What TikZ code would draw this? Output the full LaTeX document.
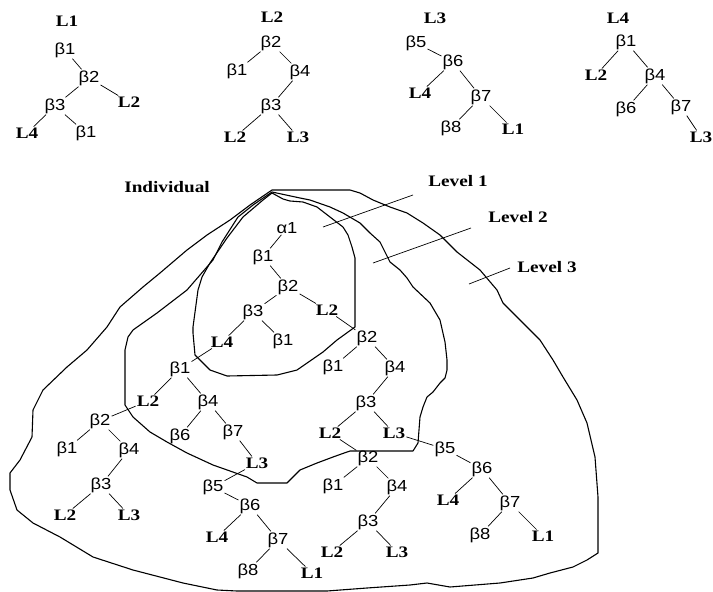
\documentclass[tikz,border=0pt]{standalone}
\usepackage{fontspec}
\setmainfont{Liberation Serif}
\newfontfamily\lbf{Liberation Serif}[FakeStretch=1.2]
\newfontfamily\bfs{Liberation Sans}[FakeStretch=1.15]
\tikzset{
  bet/.style={font=\bfs\fontsize{16}{16}\selectfont, inner sep=1pt},
  lab/.style={font=\lbf\bfseries\fontsize{16}{16}\selectfont, inner sep=1pt},
  edg/.style={line width=0.7pt},
  region/.style={line width=1.1pt, line join=round},
}
\begin{document}
\begin{tikzpicture}[x=1pt,y=-1pt]
\useasboundingbox (0,0) rectangle (713,592);
% ---------- top trees ----------
\node[lab] (tA) at (67,21) {L1};
\node[bet] (a1) at (65,50) {β1};
\node[bet] (a2) at (89,78) {β2};
\node[lab] (a3) at (129,102) {L2};
\node[bet] (a4) at (55,106) {β3};
\node[lab] (a5) at (27,133) {L4};
\node[bet] (a6) at (86,133) {β1};
\draw[edg] (a1)--(a2) (a2)--(a4) (a2)--(a3) (a4)--(a5) (a4)--(a6);

\node[lab] (tB) at (272,17) {L2};
\node[bet] (b1) at (271,43) {β2};
\node[bet] (b2) at (237,71) {β1};
\node[bet] (b3) at (300,72) {β4};
\node[bet] (b4) at (271,106) {β3};
\node[lab] (b5) at (235,137) {L2};
\node[lab] (b6) at (298,137) {L3};
\draw[edg] (b1)--(b2) (b1)--(b3) (b3)--(b4) (b4)--(b5) (b4)--(b6);

\node[lab] (tC) at (435,18) {L3};
\node[bet] (c1) at (416,43) {β5};
\node[bet] (c2) at (453,62) {β6};
\node[lab] (c3) at (420,93) {L4};
\node[bet] (c4) at (481,97) {β7};
\node[bet] (c5) at (451,128) {β8};
\node[lab] (c6) at (513,129) {L1};
\draw[edg] (c1)--(c2) (c2)--(c3) (c2)--(c4) (c4)--(c5) (c4)--(c6);

\node[lab] (tD) at (618,18) {L4};
\node[bet] (d1) at (626,42) {β1};
\node[lab] (d2) at (596,75) {L2};
\node[bet] (d3) at (655,76) {β4};
\node[bet] (d4) at (626,109) {β6};
\node[bet] (d5) at (681,107) {β7};
\node[lab] (d6) at (701,137) {L3};
\draw[edg] (d1)--(d2) (d1)--(d3) (d3)--(d4) (d3)--(d5) (d5)--(d6);

% ---------- regions ----------
\draw[region] (272,190) -- (350,190) -- (360,193) -- (373,200) -- (390,207) -- (407,213) -- (423,223) -- (440,235) -- (457,252) -- (480,270) -- (497,290) -- (503,303) -- (520,320) -- (540,340) -- (553,360) -- (563,377) -- (577,400) -- (587,423) -- (595,457) -- (598,497) -- (598,553) -- (587,560) -- (573,567) -- (550,573) -- (533,578) -- (500,583) -- (450,587) -- (427,583) -- (410,585) -- (367,588) -- (327,591) -- (237,591) -- (217,590) -- (183,583) -- (133,570) -- (93,557) -- (60,537) -- (33,523) -- (17,510) -- (10,490) -- (10,473) -- (20,460) -- (32,437) -- (33,410) -- (43,390) -- (67,367) -- (87,350) -- (107,327) -- (120,307) -- (143,287) -- (160,273) -- (187,250) -- (207,235) -- (230,220) -- (250,205) -- cycle;

\draw[region] (272,192) -- (300,198) -- (310,200) -- (330,207) -- (343,213) -- (360,223) -- (370,233) -- (380,242) -- (385,252) -- (390,262) -- (400,270) -- (407,278) -- (413,287) -- (430,303) -- (440,320) -- (445,342) -- (447,360) -- (447,370) -- (445,378) -- (440,383) -- (433,392) -- (427,397) -- (423,407) -- (420,417) -- (418,443) -- (413,451) -- (350,451) -- (347,452) -- (333,457) -- (317,463) -- (300,470) -- (287,483) -- (257,483) -- (247,477) -- (213,465) -- (187,453) -- (167,442) -- (150,432) -- (133,417) -- (125,405) -- (125,350) -- (128,337) -- (133,330) -- (157,313) -- (187,290) -- (213,260) -- (222,242) -- (238,217) -- (253,205) -- cycle;

\draw[region] (272,193) -- (283,199) -- (290,201) -- (303,202) -- (317,207) -- (330,217) -- (343,227) -- (348,235) -- (352,247) -- (355,258) -- (355,327) -- (337,340) -- (323,352) -- (297,370) -- (277,375) -- (227,376) -- (210,370) -- (195,355) -- (193,333) -- (193,327) -- (198,290) -- (202,277) -- (210,263) -- (227,238) -- (243,217) -- (263,200) -- cycle;

% ---------- labels and leaders ----------
\node[lab] (ind) at (167,187) {Individual};
\node[lab] (lv1) at (458,181) {Level 1};
\node[lab] (lv2) at (518,217) {Level 2};
\node[lab] (lv3) at (547,267) {Level 3};
\coordinate (l1a) at (323,227); \coordinate (l1b) at (413,195);
\coordinate (l2a) at (373,263); \coordinate (l2b) at (471,228);
\coordinate (l3a) at (469,284); \coordinate (l3b) at (510,268);
\draw[edg] (l1a)--(l1b) (l2a)--(l2b) (l3a)--(l3b);

% ---------- main tree ----------
\node[bet] (m0) at (287,228) {α1};
\node[bet] (m1) at (263,257) {β1};
\node[bet] (m2) at (288,287) {β2};
\node[lab] (m3) at (327,310) {L2};
\node[bet] (m4) at (253,312) {β3};
\node[lab] (m5) at (222,342) {L4};
\node[bet] (m6) at (283,341) {β1};

\node[bet] (n1) at (367,338) {β2};
\node[bet] (n2) at (333,367) {β1};
\node[bet] (n3) at (395,368) {β4};
\node[bet] (n4) at (366,403) {β3};
\node[lab] (n5) at (330,433) {L2};
\node[lab] (n6) at (394,433) {L3};

\node[bet] (q1) at (368,458) {β2};
\node[bet] (q2) at (333,486) {β1};
\node[bet] (q3) at (397,487) {β4};
\node[bet] (q4) at (368,522) {β3};
\node[lab] (q5) at (332,552) {L2};
\node[lab] (q6) at (397,552) {L3};

\node[bet] (r1) at (445,449) {β5};
\node[bet] (r2) at (482,469) {β6};
\node[lab] (r3) at (448,500) {L4};
\node[bet] (r4) at (510,503) {β7};
\node[bet] (r5) at (480,535) {β8};
\node[lab] (r6) at (543,536) {L1};

\node[bet] (p1) at (180,369) {β1};
\node[lab] (p2) at (148,401) {L2};
\node[bet] (p3) at (208,402) {β4};
\node[bet] (p4) at (180,436) {β6};
\node[bet] (p5) at (233,432) {β7};
\node[lab] (p6) at (257,463) {L3};

\node[bet] (s1) at (100,421) {β2};
\node[bet] (s2) at (67,449) {β1};
\node[bet] (s3) at (129,450) {β4};
\node[bet] (s4) at (101,485) {β3};
\node[lab] (s5) at (65,515) {L2};
\node[lab] (s6) at (129,515) {L3};

\node[bet] (t1) at (213,487) {β5};
\node[bet] (t2) at (250,506) {β6};
\node[lab] (t3) at (217,537) {L4};
\node[bet] (t4) at (278,540) {β7};
\node[bet] (t5) at (248,571) {β8};
\node[lab] (t6) at (312,573) {L1};

\draw[edg] (m0)--(m1) (m1)--(m2) (m2)--(m4) (m2)--(m3) (m4)--(m5) (m4)--(m6)
  (m3)--(n1) (m5)--(p1)
  (n1)--(n2) (n1)--(n3) (n3)--(n4) (n4)--(n5) (n4)--(n6) (n5)--(q1) (n6)--(r1)
  (q1)--(q2) (q1)--(q3) (q3)--(q4) (q4)--(q5) (q4)--(q6)
  (r1)--(r2) (r2)--(r3) (r2)--(r4) (r4)--(r5) (r4)--(r6)
  (p1)--(p2) (p1)--(p3) (p3)--(p4) (p3)--(p5) (p5)--(p6) (p2)--(s1) (p6)--(t1)
  (s1)--(s2) (s1)--(s3) (s3)--(s4) (s4)--(s5) (s4)--(s6)
  (t1)--(t2) (t2)--(t3) (t2)--(t4) (t4)--(t5) (t4)--(t6);
\end{tikzpicture}
\end{document}
